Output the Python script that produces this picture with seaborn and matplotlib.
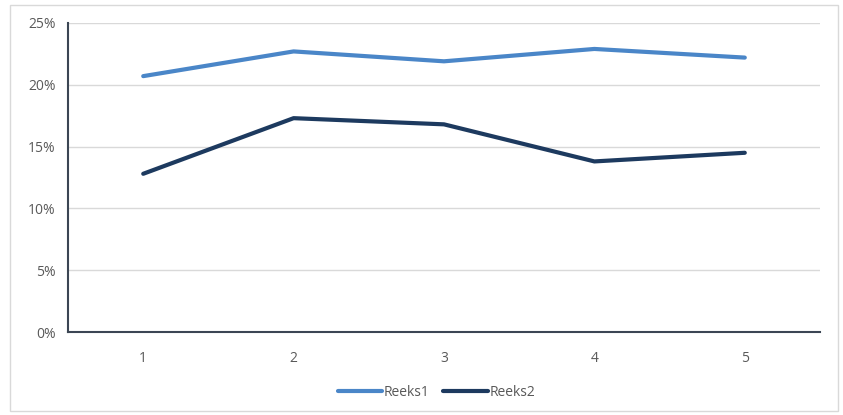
import pandas as pd
import numpy as np
import matplotlib.pyplot as plt
import seaborn as sns
from matplotlib.patches import Rectangle
from matplotlib.ticker import PercentFormatter

# Данные
categories = [1, 2, 3, 4, 5]
reeks1 = [0.207, 0.227, 0.219, 0.229, 0.222]
reeks2 = [0.128, 0.173, 0.168, 0.138, 0.145]

data = pd.DataFrame({
    'x': categories * 2,
    'value': reeks1 + reeks2,
    'series': ['Reeks1'] * len(categories) + ['Reeks2'] * len(categories),
})

sns.set_style('white')
plt.rcParams['font.family'] = ['Open Sans', 'DejaVu Sans']

fig = plt.figure(figsize=(8.43, 4.15), dpi=100)
ax = fig.add_axes([0.0807, 0.2, 0.892, 0.7446])

sns.lineplot(data=data, x='x', y='value', hue='series',
             palette={'Reeks1': '#4a86c8', 'Reeks2': '#1d3a5f'},
             linewidth=3, ax=ax, legend=True)

ax.set_xlim(0.5, 5.5)
ax.set_ylim(0, 0.25)
ax.set_xticks(categories)
ax.set_yticks(np.arange(0, 0.251, 0.05))
ax.yaxis.set_major_formatter(PercentFormatter(1.0, decimals=0))
ax.grid(axis='y', color='#d9d9d9', linewidth=1)
ax.set_axisbelow(True)
ax.set_xlabel('')
ax.set_ylabel('')
ax.tick_params(axis='both', colors='#595959', labelsize=10, length=0)
ax.tick_params(axis='y', pad=9)
ax.tick_params(axis='x', pad=14)

for side in ['top', 'right']:
    ax.spines[side].set_visible(False)
for side in ['left', 'bottom']:
    ax.spines[side].set_color('#3c4654')
    ax.spines[side].set_linewidth(1.5)

# Легенда внизу
ax.legend(loc='upper center', bbox_to_anchor=(0.49, -0.13), ncol=2, frameon=False,
          fontsize=10, handlelength=3.2, columnspacing=1.0, handletextpad=0.1,
          labelcolor='#595959')

# Рамка вокруг диаграммы
fig.patches.append(Rectangle((10 / 843, 4 / 415), 828 / 843, 406 / 415,
                             transform=fig.transFigure, fill=False,
                             edgecolor='#d9d9d9', linewidth=1))

plt.savefig('out.png', dpi=100)
